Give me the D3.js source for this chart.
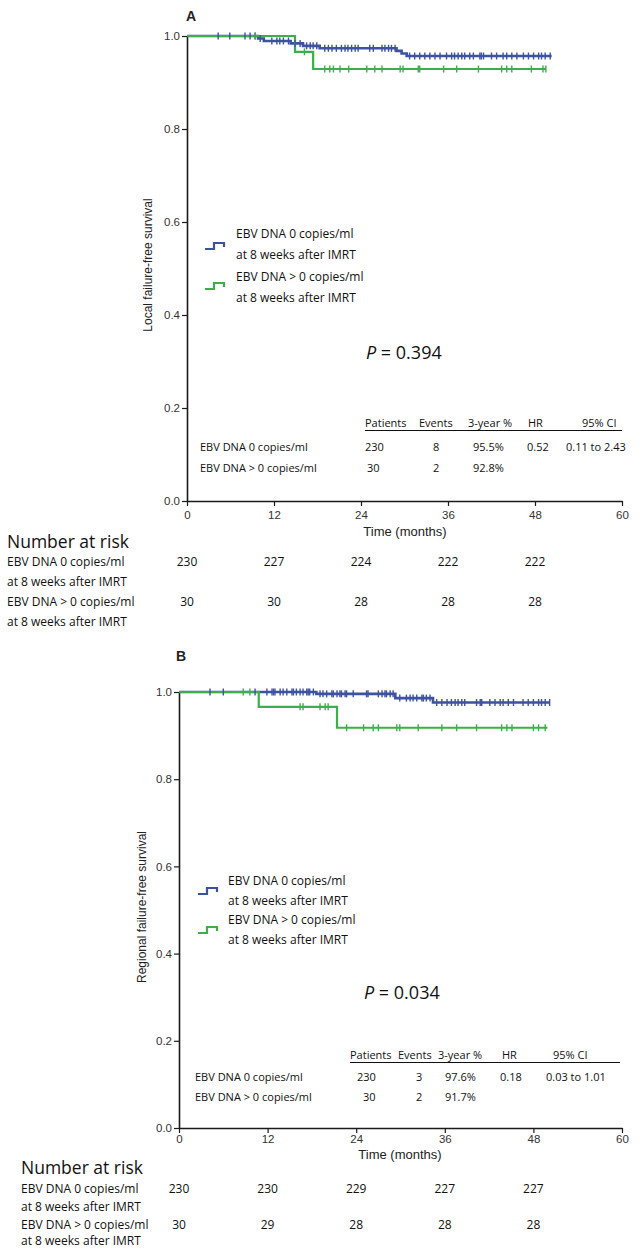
<!DOCTYPE html>
<html><head><meta charset="utf-8">
<script src="https://cdn.jsdelivr.net/npm/d3@7"></script>
<style>body{margin:0;background:#fff} svg{display:block}</style>
</head><body>
<script>
// ---------- shared data ----------
const timeTicks = [0, 12, 24, 36, 48, 60];
const survTicks = [0, 0.2, 0.4, 0.6, 0.8, 1.0];
const riskTimes = [0, 12, 24, 36, 48];
const groupNames = ["EBV DNA 0 copies/ml", "EBV DNA > 0 copies/ml"];
const groupSub = "at 8 weeks after IMRT";
const tableHeader = ["Patients", "Events", "3-year %", "HR", "95% CI"];
const xLabel = "Time (months)";
const riskTitle = "Number at risk";

// ---------- panel A data ----------
const aTitle = "A";
const aYLabel = "Local failure-free survival";
const aPValue = "0.394";
const aBlueEventTimes = [0, 9.8, 10.6, 14.3, 16.0, 18.3, 28.9, 29.6, 30.3];
const aBlueSurv = [1, 0.9947, 0.9894, 0.9841, 0.9788, 0.9735, 0.968, 0.9625, 0.957];
const aBlueEnd = 50.3;
const aBlueCensor = [4.3, 5.9, 8.0, 8.7, 9.4, 10.1, 11.7, 12.4, 12.8, 13.3, 14.0, 14.9, 15.6, 16.5, 17.0, 17.4, 17.9,
  19.0, 19.5, 20.0, 20.6, 21.3, 21.8, 22.2, 22.7, 23.2, 23.6, 25.2, 25.7, 26.9, 27.3, 27.8, 28.2, 28.7,
  30.7, 31.4, 32.1, 32.8, 33.5, 34.2, 34.9, 35.8, 36.5, 36.9, 37.4, 37.9, 38.3, 39.0, 39.5, 40.4, 40.6, 40.9,
  42.0, 42.7, 43.6, 44.1, 44.8, 45.5, 46.4, 47.1, 47.8, 48.5, 48.9, 49.4, 50.1];
const aGreenEventTimes = [0, 14.9, 17.4];
const aGreenSurv = [1, 0.966, 0.929];
const aGreenEnd = 49.5;
const aGreenCensor = [9.4, 16.2, 19.0, 19.7, 20.2, 21.1, 22.3, 24.8, 25.9, 26.9, 29.4, 29.8, 31.9, 32.1, 35.4, 37.2,
  40.2, 43.4, 44.1, 44.8, 47.5, 49.1, 49.5];
const aRiskBlue = [230, 227, 224, 222, 222];
const aRiskGreen = [30, 30, 28, 28, 28];
const aTableBlue = ["230", "8", "95.5%", "0.52", "0.11 to 2.43"];
const aTableGreen = ["30", "2", "92.8%", "", ""];

// ---------- panel B data ----------
const bTitle = "B";
const bYLabel = "Regional failure-free survival";
const bPValue = "0.034";
const bBlueEventTimes = [0, 18.6, 29.3, 34.4];
const bBlueSurv = [1, 0.9957, 0.986, 0.976];
const bBlueEnd = 50.2;
const bBlueCensor = [4.2, 6.0, 10.3, 11.9, 12.6, 12.8, 13.0, 13.7, 14.1, 14.6, 15.3, 15.5, 15.9, 16.4, 16.8, 17.3, 17.5, 17.7, 18.2,
  19.1, 19.5, 20.0, 20.7, 20.9, 21.4, 21.8, 22.0, 22.5, 22.7, 23.6, 25.4, 25.6, 27.0, 27.5, 27.9, 28.1, 28.6, 29.0,
  29.9, 30.8, 31.3, 31.7, 32.2, 32.9, 33.1, 33.5, 34.0,
  34.9, 35.6, 36.3, 36.9, 37.4, 37.8, 38.3, 38.7, 40.3, 40.8, 41.0, 42.1, 42.8, 43.5, 43.9, 44.6, 45.3,
  46.6, 47.3, 48.0, 48.7, 49.1, 49.6, 50.2];
const bGreenEventTimes = [0, 10.8, 21.4];
const bGreenSurv = [1, 0.966, 0.918];
const bGreenEnd = 49.9;
const bGreenCensor = [8.7, 9.6, 16.4, 16.8, 19.1, 19.8, 20.2, 22.7, 25.0, 26.3, 27.0, 29.5, 29.9, 32.4, 35.6, 37.6,
  40.3, 43.7, 44.4, 45.1, 48.0, 48.7, 49.6];
const bRiskBlue = [230, 230, 229, 227, 227];
const bRiskGreen = [30, 29, 28, 28, 28];
const bTableBlue = ["230", "3", "97.6%", "0.18", "0.03 to 1.01"];
const bTableGreen = ["30", "2", "91.7%", "", ""];

// ---------- styling ----------
const BLUE = "#3d52a1", GREEN = "#3daf4a", AXIS = "#1a1a1a";
const AX_FONT = "'Liberation Sans', Arial, sans-serif";
const TX_FONT = "'Open Sans', 'Noto Sans', sans-serif";

const svg = d3.select("body").append("svg").attr("width", 640).attr("height", 1248);

function survAt(times, surv, t) {
  const i = d3.bisectRight(times, t) - 1;
  return surv[Math.max(0, i)];
}

function drawPanel(p) {
  const x = d3.scaleLinear().domain([0, 60]).range([p.x0, p.x1]);
  const y = d3.scaleLinear().domain([0, 1]).range([p.y0, p.y1]);
  const g = svg.append("g");

  // axes
  const ya = g.append("g").attr("transform", `translate(${p.x0},0)`)
    .call(d3.axisLeft(y).tickValues(survTicks).tickFormat(d3.format(".1f")).tickSize(5).tickSizeOuter(0).tickPadding(2));
  const xa = g.append("g").attr("transform", `translate(0,${p.y0})`)
    .call(d3.axisBottom(x).tickValues(timeTicks).tickSize(5).tickSizeOuter(0).tickPadding(p.xPad));
  [ya, xa].forEach(a => {
    a.select(".domain").attr("stroke", AXIS).attr("stroke-width", 1.6);
    a.selectAll(".tick line").attr("stroke", AXIS).attr("stroke-width", 1.2);
    a.selectAll("text").attr("font-family", AX_FONT).attr("font-size", 11.5).attr("fill", "#333");
  });

  g.append("text").attr("x", p.titleX).attr("y", p.titleY).text(p.title)
    .attr("font-family", AX_FONT).attr("font-size", 14).attr("font-weight", "bold").attr("fill", "#222");
  g.append("text").attr("transform", `translate(${p.ylabX},${p.ylabY}) rotate(-90)`)
    .attr("text-anchor", "middle").text(p.yLabel)
    .attr("font-family", AX_FONT).attr("font-size", 12).attr("fill", "#222");
  g.append("text").attr("x", p.xlabX).attr("y", p.xlabY).attr("text-anchor", "middle").text(xLabel)
    .attr("font-family", AX_FONT).attr("font-size", 13).attr("fill", "#222");

  // curves
  const line = d3.line().x(d => x(d[0])).y(d => y(d[1])).curve(d3.curveStepAfter);
  const series = [
    { times: p.blueT, surv: p.blueS, end: p.blueEnd, censor: p.blueC, color: BLUE, w: 2.6 },
    { times: p.greenT, surv: p.greenS, end: p.greenEnd, censor: p.greenC, color: GREEN, w: 2.2 }
  ];
  series.forEach(s => {
    const pts = s.times.map((t, i) => [t, s.surv[i]]);
    pts.push([s.end, s.surv[s.surv.length - 1]]);
    g.append("path").datum(pts).attr("d", line).attr("fill", "none")
      .attr("stroke", s.color).attr("stroke-width", s.w);
  });
  series.forEach(s => {
    g.append("g").selectAll("line").data(s.censor).join("line")
      .attr("x1", d => x(d)).attr("x2", d => x(d))
      .attr("y1", d => y(survAt(s.times, s.surv, d)) - 3.5)
      .attr("y2", d => y(survAt(s.times, s.surv, d)) + 3.5)
      .attr("stroke", s.color).attr("stroke-width", 1.4);
  });

  // legend
  const legendItems = [
    { color: BLUE, iy: p.legIconY[0], ty: p.legTextY.slice(0, 2), name: groupNames[0] },
    { color: GREEN, iy: p.legIconY[1], ty: p.legTextY.slice(2, 4), name: groupNames[1] }
  ];
  legendItems.forEach(l => {
    g.append("path").attr("d", `M${p.legIconX},${l.iy + 6} h9 v-6 h10 v4`)
      .attr("fill", "none").attr("stroke", l.color).attr("stroke-width", 2.2);
    g.append("text").attr("x", p.legTextX).attr("y", l.ty[0]).text(l.name)
      .attr("font-family", TX_FONT).attr("font-size", 12).attr("fill", "#111");
    g.append("text").attr("x", p.legTextX).attr("y", l.ty[1]).text(groupSub)
      .attr("font-family", TX_FONT).attr("font-size", 12).attr("fill", "#111");
  });

  // P value
  const pt = g.append("text").attr("x", p.pX).attr("y", p.pY)
    .attr("font-family", TX_FONT).attr("font-size", 18).attr("fill", "#111");
  pt.append("tspan").attr("font-style", "italic").text("P");
  pt.append("tspan").text(" = " + p.pValue);

  // table
  const TF = 11;
  tableHeader.forEach((h, i) => {
    g.append("text").attr("x", p.hdrX[i]).attr("y", p.tblY[0]).text(h)
      .attr("font-family", TX_FONT).attr("font-size", TF).attr("fill", "#111");
  });
  g.append("line").attr("x1", p.hdrX[0]).attr("x2", p.ulineEnd)
    .attr("y1", p.tblY[0] + 3.5).attr("y2", p.tblY[0] + 3.5).attr("stroke", "#111").attr("stroke-width", 1);
  [p.tblBlue, p.tblGreen].forEach((row, r) => {
    g.append("text").attr("x", p.tblLabelX).attr("y", p.tblY[r + 1]).text(groupNames[r])
      .attr("font-family", TX_FONT).attr("font-size", TF).attr("fill", "#111");
    row.forEach((v, i) => {
      g.append("text").attr("x", p.valX[r][i]).attr("y", p.tblY[r + 1]).text(v)
        .attr("font-family", TX_FONT).attr("font-size", TF).attr("fill", "#111");
    });
  });

  // number at risk
  g.append("text").attr("x", p.riskX).attr("y", p.riskY[0]).text(riskTitle)
    .attr("font-family", TX_FONT).attr("font-size", 17.5).attr("fill", "#111");
  const rowTexts = [groupNames[0], groupSub, groupNames[1], groupSub];
  rowTexts.forEach((t, i) => {
    g.append("text").attr("x", p.riskX).attr("y", p.riskY[i + 1]).text(t)
      .attr("font-family", TX_FONT).attr("font-size", 12).attr("fill", "#111");
  });
  [p.riskBlue, p.riskGreen].forEach((vals, r) => {
    g.append("g").selectAll("text").data(vals).join("text")
      .attr("x", (d, i) => x(riskTimes[i])).attr("y", p.riskY[r * 2 + 1])
      .attr("text-anchor", "middle").text(d => d)
      .attr("font-family", TX_FONT).attr("font-size", 12).attr("fill", "#111");
  });
}

drawPanel({
  x0: 187, x1: 622, y0: 501, y1: 36, xPad: 5,
  title: aTitle, titleX: 186, titleY: 21,
  yLabel: aYLabel, ylabX: 152, ylabY: 265,
  xlabX: 405, xlabY: 536,
  blueT: aBlueEventTimes, blueS: aBlueSurv, blueEnd: aBlueEnd, blueC: aBlueCensor,
  greenT: aGreenEventTimes, greenS: aGreenSurv, greenEnd: aGreenEnd, greenC: aGreenCensor,
  legIconX: 205, legIconY: [243, 283], legTextX: 236, legTextY: [238, 259, 281, 302],
  pX: 366, pY: 359, pValue: aPValue,
  hdrX: [365, 419, 468, 528, 582], ulineEnd: 622, tblY: [427, 451, 472], tblLabelX: 200,
  valX: [[365, 433, 473, 527, 566], [367, 433, 473, 527, 566]],
  tblBlue: aTableBlue, tblGreen: aTableGreen,
  riskX: 7, riskY: [548, 566, 586, 606, 626],
  riskBlue: aRiskBlue, riskGreen: aRiskGreen
});

drawPanel({
  x0: 179, x1: 622, y0: 1128, y1: 692, xPad: 2,
  title: bTitle, titleX: 176, titleY: 661,
  yLabel: bYLabel, ylabX: 146, ylabY: 907,
  xlabX: 400, xlabY: 1159,
  blueT: bBlueEventTimes, blueS: bBlueSurv, blueEnd: bBlueEnd, blueC: bBlueCensor,
  greenT: bGreenEventTimes, greenS: bGreenSurv, greenEnd: bGreenEnd, greenC: bGreenCensor,
  legIconX: 198, legIconY: [888, 927], legTextX: 228, legTextY: [885, 905, 924, 944],
  pX: 364, pY: 999, pValue: bPValue,
  hdrX: [350, 398, 438, 502, 553], ulineEnd: 620, tblY: [1059, 1081, 1101], tblLabelX: 195,
  valX: [[357, 416, 445, 500, 546], [363, 416, 445, 500, 546]],
  tblBlue: bTableBlue, tblGreen: bTableGreen,
  riskX: 21, riskY: [1174, 1193, 1211, 1229, 1245],
  riskBlue: bRiskBlue, riskGreen: bRiskGreen
});
</script>
</body></html>
